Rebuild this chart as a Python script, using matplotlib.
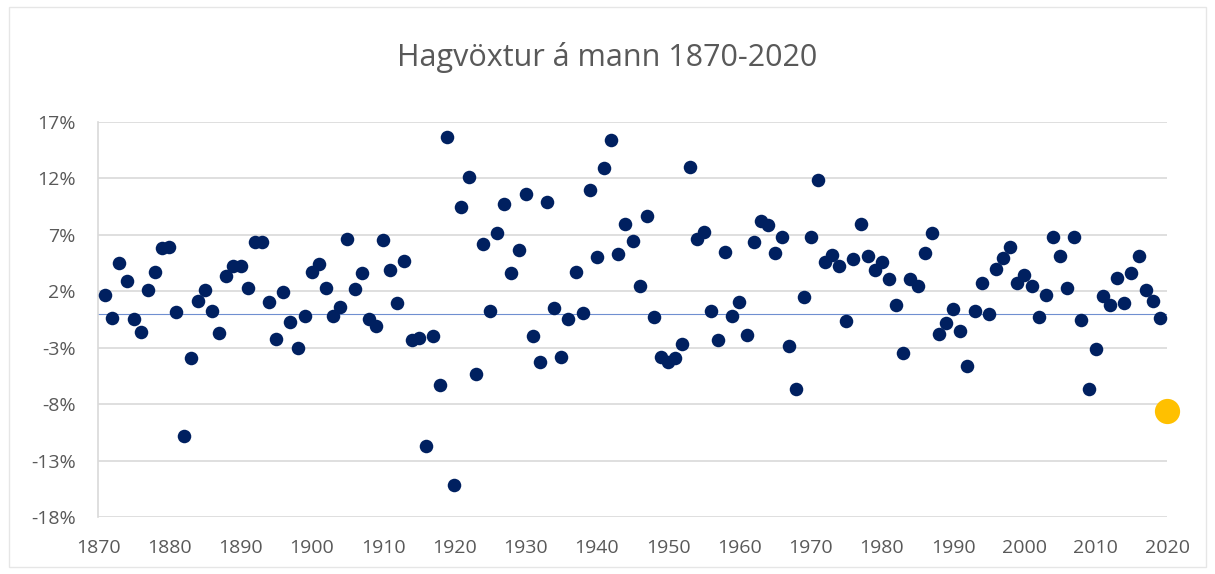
import matplotlib.pyplot as plt
from matplotlib.patches import Rectangle

ar = list(range(1871, 2020))
voxtur = [1.7, -0.4, 4.5, 2.9, -0.5, -1.65, 2.1, 3.7, 5.8, 5.9,
          0.15, -10.8, -3.9, 1.1, 2.1, 0.25, -1.7, 3.35, 4.2, 4.2,
          2.3, 6.4, 6.4, 1.05, -2.2, 1.9, -0.7, -3.0, -0.15, 3.7,
          4.45, 2.25, -0.15, 0.6, 6.6, 2.2, 3.6, -0.5, -1.05, 6.5,
          3.9, 1.0, 4.65, -2.3, -2.1, -11.7, -2.0, -6.3, 15.7, -15.2,
          9.5, 12.1, -5.35, 6.2, 0.25, 7.2, 9.7, 3.6, 5.7, 10.6,
          -2.0, -4.3, 9.9, 0.5, -3.8, -0.5, 3.75, 0.1, 11.0, 5.05,
          12.9, 15.4, 5.3, 7.95, 6.45, 2.45, 8.7, -0.25, -3.85, -4.3,
          -3.95, -2.65, 13.0, 6.6, 7.25, 0.25, -2.35, 5.45, -0.2, 1.05,
          -1.85, 6.35, 8.2, 7.9, 5.35, 6.85, -2.85, -6.7, 1.45, 6.8,
          11.9, 4.55, 5.2, 4.25, -0.65, 4.85, 7.95, 5.1, 3.85, 4.55,
          3.05, 0.75, -3.45, 3.05, 2.45, 5.4, 7.2, -1.75, -0.85, 0.4,
          -1.5, -4.6, 0.25, 2.7, -0.05, 3.95, 4.95, 5.95, 2.75, 3.4,
          2.45, -0.25, 1.65, 6.8, 5.15, 2.25, 6.85, -0.55, -6.7, -3.1,
          1.55, 0.75, 3.2, 0.95, 3.6, 5.15, 2.1, 1.1, -0.35]
ar_2020 = 2020
voxtur_2020 = -8.6

yticks = [17, 12, 7, 2, -3, -8, -13, -18]
xticks = list(range(1870, 2021, 10))

plt.rcParams['font.family'] = ['Open Sans', 'DejaVu Sans']
grar = '#595959'

fig = plt.figure(figsize=(12.15, 5.74), dpi=100)
ax = fig.add_axes([0.0807, 0.0993, 0.8798, 0.6882])

fig.patches.append(Rectangle((0.007, 0.012), 0.986, 0.975, transform=fig.transFigure,
                             fill=False, edgecolor='#E6E6E6', linewidth=1))

for t in yticks:
    ax.axhline(t, color='#D9D9D9', linewidth=1.2, zorder=0)
ax.axhline(0, color='#6F8FD0', linewidth=0.8, zorder=1)

ax.scatter(ar, voxtur, s=95, color='#002060', zorder=3, linewidths=0, clip_on=False)
ax.scatter([ar_2020], [voxtur_2020], s=330, color='#FFC000', zorder=3, linewidths=0,
           clip_on=False)

ax.set_xlim(1870, 2020)
ax.set_ylim(-18, 17)
ax.set_yticks(yticks)
ax.set_yticklabels([f'{t}%' for t in yticks])
ax.set_xticks(xticks)
ax.tick_params(length=0, labelsize=14, labelcolor=grar)
ax.tick_params(axis='y', pad=16)
ax.tick_params(axis='x', pad=16)

for s in ['top', 'right', 'bottom']:
    ax.spines[s].set_visible(False)
ax.spines['left'].set_color('#D9D9D9')
ax.spines['left'].set_linewidth(1.2)

fig.text(0.5, 0.9, 'Hagvöxtur á mann 1870-2020', ha='center', va='center',
         fontsize=22, color=grar)

plt.savefig('out.png', dpi=100)
